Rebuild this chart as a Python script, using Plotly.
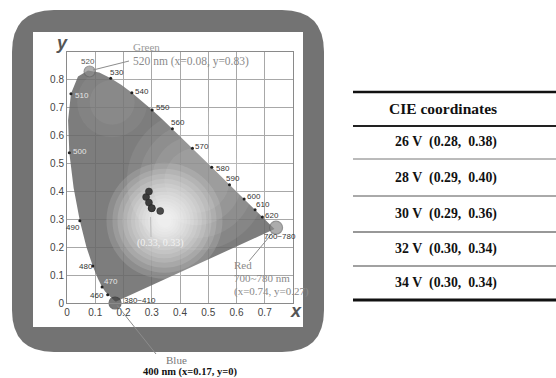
import plotly.graph_objects as go

# ---- CIE 1931 spectral locus (wavelength in nm, chromaticity x, y) ----
locus_nm = [380, 400, 410, 420, 430, 440, 450, 460, 465, 470, 475, 480, 485, 490,
            495, 500, 505, 510, 515, 520, 525, 530, 535, 540, 545, 550, 555, 560,
            565, 570, 575, 580, 585, 590, 595, 600, 605, 610, 620, 630, 640, 650, 700]
locus_x = [0.1741, 0.1733, 0.1726, 0.1714, 0.1689, 0.1644, 0.1566, 0.1440, 0.1355,
           0.1241, 0.1096, 0.0913, 0.0687, 0.0454, 0.0235, 0.0082, 0.0039, 0.0139,
           0.0389, 0.0743, 0.1142, 0.1547, 0.1929, 0.2296, 0.2658, 0.3016, 0.3373,
           0.3731, 0.4087, 0.4441, 0.4788, 0.5125, 0.5448, 0.5752, 0.6029, 0.6270,
           0.6482, 0.6658, 0.6915, 0.7079, 0.7190, 0.7260, 0.7347]
locus_y = [0.0050, 0.0048, 0.0048, 0.0051, 0.0069, 0.0109, 0.0177, 0.0297, 0.0399,
           0.0578, 0.0868, 0.1327, 0.2007, 0.2950, 0.4127, 0.5384, 0.6548, 0.7502,
           0.8120, 0.8338, 0.8262, 0.8059, 0.7816, 0.7543, 0.7243, 0.6923, 0.6589,
           0.6245, 0.5896, 0.5547, 0.5202, 0.4866, 0.4544, 0.4242, 0.3965, 0.3725,
           0.3514, 0.3340, 0.3083, 0.2920, 0.2809, 0.2740, 0.2653]

# wavelengths marked with a dot and a label along the locus
marked_nm = [460, 470, 480, 490, 500, 510, 530, 540, 550, 560, 570, 580, 590, 600, 610, 620]
labeled_nm = [460, 470, 480, 490, 500, 510, 520, 530, 540, 550, 560, 570, 580, 590, 600, 610, 620]

# primaries
primary_names = ["Green", "Red", "Blue"]
primary_x = [0.08, 0.74, 0.17]
primary_y = [0.83, 0.27, 0.0]

# measured CIE coordinates vs. drive voltage
voltages = [26, 28, 30, 32, 34]
cie_x = [0.28, 0.29, 0.29, 0.30, 0.30]
cie_y = [0.38, 0.40, 0.36, 0.34, 0.34]

# equal-energy white point
white_x = [0.33]
white_y = [0.33]

x_ticks = [0, 0.1, 0.2, 0.3, 0.4, 0.5, 0.6, 0.7]
y_ticks = [0, 0.1, 0.2, 0.3, 0.4, 0.5, 0.6, 0.7, 0.8]

# ---- layout geometry (pixels) ----
W, H = 556, 378
PL, PR, PT, PB = 67, 293, 52, 303          # plot-area edges
XR, YR = (0, 0.8), (0, 0.9)


def fx(p):  # pixel x -> paper x
    return (p - PL) / (PR - PL)


def fy(p):  # pixel y -> paper y
    return (PB - p) / (PB - PT)


def dx(v):  # data x -> paper x
    return (v - XR[0]) / (XR[1] - XR[0])


def dy(v):  # data y -> paper y
    return (v - YR[0]) / (YR[1] - YR[0])


def rounded_rect(x0, y0, x1, y1, r):
    pts = [
        ("M", [(x0 + r, y0)]), ("L", [(x1 - r, y0)]), ("Q", [(x1, y0), (x1, y0 + r)]),
        ("L", [(x1, y1 - r)]), ("Q", [(x1, y1), (x1 - r, y1)]), ("L", [(x0 + r, y1)]),
        ("Q", [(x0, y1), (x0, y1 - r)]), ("L", [(x0, y0 + r)]), ("Q", [(x0, y0), (x0 + r, y0)]),
    ]
    s = ""
    for cmd, ps in pts:
        s += cmd + " " + " ".join(f"{fx(a):.5f},{fy(b):.5f}" for a, b in ps) + " "
    return s + "Z"


def note(xp, yp, text, size, color, family, anchor="center"):
    """Text placed by pixel position on the page."""
    return dict(x=fx(xp), y=fy(yp), xref="paper", yref="paper", text=text,
                showarrow=False, xanchor=anchor, yanchor="middle",
                font=dict(size=size, color=color, family=family))


fig = go.Figure()

# horseshoe fill (mostly opaque so the grid only shows faintly through it)
fig.add_trace(go.Scatter(
    x=locus_x, y=locus_y, mode="lines", fill="toself",
    fillcolor="rgba(104,104,104,0.86)", line=dict(width=0), hoverinfo="skip"))

# soft highlights inside the horseshoe
fig.add_trace(go.Scatter(
    x=[0.46, 0.46, 0.46, 0.46], y=[0.44, 0.44, 0.44, 0.44], mode="markers",
    hoverinfo="skip",
    marker=dict(size=[140, 115, 90, 65], color="white", opacity=0.07, line=dict(width=0))))
fig.add_trace(go.Scatter(
    x=[0.16, 0.16], y=[0.72, 0.72], mode="markers", hoverinfo="skip",
    marker=dict(size=[70, 45], color="white", opacity=0.05, line=dict(width=0))))
glow_sizes = [116, 104, 94, 84, 75, 67, 59, 52, 45, 39, 33, 28, 23, 18, 14]
fig.add_trace(go.Scatter(
    x=[0.345] * len(glow_sizes), y=[0.295] * len(glow_sizes), mode="markers",
    hoverinfo="skip",
    marker=dict(size=glow_sizes, color="white", opacity=0.13, line=dict(width=0))))

# wavelength dots
idx = {nm: i for i, nm in enumerate(locus_nm)}
fig.add_trace(go.Scatter(
    x=[locus_x[idx[n]] for n in marked_nm], y=[locus_y[idx[n]] for n in marked_nm],
    mode="markers", marker=dict(size=3, color="#222"), hoverinfo="skip"))

# measured points and white point
fig.add_trace(go.Scatter(
    x=cie_x, y=cie_y, mode="markers",
    marker=dict(size=7, color="#3c3c3c", line=dict(width=0.5, color="#222"))))
fig.add_trace(go.Scatter(
    x=white_x, y=white_y, mode="markers",
    marker=dict(size=7, color="#4a4a4a", line=dict(width=0.5, color="#222"))))

# primaries
fig.add_trace(go.Scatter(
    x=primary_x, y=primary_y, mode="markers", cliponaxis=False,
    marker=dict(size=[11, 13, 12], color=["#8e8e8e", "#8a8a8a", "#3e3e3e"],
                line=dict(width=1.2, color=["#6a6a6a", "#666", "#333"]))))

# ---- annotations ----
ann = []
label_style = {
    460: (-11, -1, "#333"), 470: (9, 5, "#e6e6e6"), 480: (-7, -1, "#333"),
    490: (-7, -7, "#333"), 500: (11, 1, "#e6e6e6"), 510: (11, -2, "#e6e6e6"),
    520: (0, 9, "#555"), 530: (6, 6, "#333"), 540: (10, 1, "#333"),
    550: (11, 2, "#333"), 560: (6, 6, "#333"), 570: (10, 2, "#333"),
    580: (11, -1, "#333"), 590: (4, 6, "#333"), 600: (10, 3, "#333"),
    610: (8, 5, "#333"), 620: (10, 2, "#333"),
}
for n in labeled_nm:
    xs, ys, col = label_style[n]
    ann.append(dict(x=locus_x[idx[n]], y=locus_y[idx[n]], text=str(n), showarrow=False,
                    xshift=xs, yshift=ys, xanchor="center", yanchor="middle",
                    font=dict(size=8, color=col, family="Liberation Sans")))

ann.append(dict(x=primary_x[1], y=primary_y[1], text="700~780", showarrow=False,
                xshift=4, yshift=-9, xanchor="center", yanchor="middle",
                font=dict(size=8, color="#333", family="Liberation Sans")))
ann.append(dict(x=primary_x[2], y=primary_y[2], text="380~410", showarrow=False,
                xshift=25, yshift=3, xanchor="center", yanchor="middle",
                font=dict(size=8, color="#333", family="Liberation Sans")))

serif = "Liberation Serif"
ann.append(dict(x=dx(white_x[0]), y=fy(243), xref="paper", yref="paper",
                xanchor="center", yanchor="middle",
                text=f"({white_x[0]:.2f}, {white_y[0]:.2f})", showarrow=False,
                font=dict(size=10, color="#f2f2f2", family=serif)))

# Green
ann.append(note(146, 47, primary_names[0], 11, "#9a9a9a", serif))
ann.append(note(131, 62, f"520 nm (x={primary_x[0]:.2f}, y={primary_y[0]:.2f})",
                11.5, "#8a8a8a", serif, anchor="left"))
# Red
red_lines = [primary_names[1], "700~780 nm", f"(x={primary_x[1]:.2f}, y={primary_y[1]:.2f})"]
for t, yp in zip(red_lines, [265, 278, 291]):
    ann.append(note(232, yp, t, 11, "#8a8a8a", serif, anchor="left"))
# Blue
ann.append(note(176, 360, primary_names[2], 11, "#777", serif))
ann.append(note(190, 372, f"<b>400 nm (x={primary_x[2]:.2f}, y={primary_y[2]:.0f})</b>",
                10.5, "#111", serif))

# axis letters
ann.append(note(62, 43, "<b><i>y</i></b>", 18, "#555", "Liberation Sans"))
ann.append(note(296, 311, "<b><i>x</i></b>", 18, "#555", "Liberation Sans"))

# table
TX0, TX1 = 353, 560
ann.append(note(443, 108, "<b>CIE coordinates</b>", 15.5, "#111", serif))
nb = "\u00a0"
row_y = [142, 178, 214, 249, 283]
for v, cx, cy, yp in zip(voltages, cie_x, cie_y, row_y):
    t = f"<b>{v}{nb}V{nb}{nb}({cx:.2f},{nb}{nb}{cy:.2f})</b>"
    ann.append(note(446, yp, t, 13.8, "#111", serif))

# ---- shapes ----
shapes = [
    dict(type="path", xref="paper", yref="paper", layer="below",
         path=rounded_rect(12, 10, 324, 352, 42), fillcolor="#737373", line=dict(width=0)),
    dict(type="rect", xref="paper", yref="paper", layer="below",
         x0=fx(33), x1=fx(303), y0=fy(32), y1=fy(327), fillcolor="white", line=dict(width=0)),
]
# leader lines
lead = "#8c8c8c"
shapes.append(dict(type="line", xref="paper", yref="paper",
                   x0=dx(primary_x[0]) + 0.015, y0=dy(primary_y[0]) + 0.006,
                   x1=fx(129), y1=fy(61), line=dict(color=lead, width=1)))
shapes.append(dict(type="line", xref="paper", yref="paper",
                   x0=dx(primary_x[1]) - 0.015, y0=dy(primary_y[1]) - 0.02,
                   x1=fx(249), y1=fy(261), line=dict(color=lead, width=1)))
shapes.append(dict(type="line", xref="paper", yref="paper",
                   x0=dx(primary_x[2]) + 0.01, y0=dy(primary_y[2]) - 0.01,
                   x1=fx(156), y1=fy(354), line=dict(color=lead, width=1)))
shapes.append(dict(type="line", xref="paper", yref="paper",
                   x0=dx(cie_x[-1]) - 0.005, y0=dy(cie_y[-1]) - 0.035,
                   x1=fx(151), y1=fy(237), line=dict(color="#bbb", width=1)))

table_lines = [
    (92, 2.5, "#111", "solid"), (126, 2, "#222", "solid"), (159, 1, "#777", "solid"),
    (196, 1, "#555", "solid"), (232, 1.2, "#333", "solid"), (266, 1.2, "#444", "solid"),
    (300, 3, "#111", "solid"),
]
for yp, w, c, d in table_lines:
    shapes.append(dict(type="line", xref="paper", yref="paper", x0=fx(TX0), x1=fx(TX1),
                       y0=fy(yp), y1=fy(yp), line=dict(color=c, width=w, dash=d)))

axis_common = dict(showgrid=True, gridcolor="#a8a8a8", gridwidth=1, zeroline=False,
                   showline=True, mirror=True, linecolor="#8a8a8a", linewidth=1,
                   ticks="", tickfont=dict(size=10, color="#444", family="Liberation Sans"),
                   fixedrange=True)

fig.update_layout(
    width=W, height=H,
    margin=dict(l=PL, r=W - PR, t=PT, b=H - PB, pad=0),
    paper_bgcolor="white", plot_bgcolor="rgba(0,0,0,0)",
    showlegend=False,
    xaxis=dict(range=list(XR), tickvals=x_ticks, **axis_common),
    yaxis=dict(range=list(YR), tickvals=y_ticks, **axis_common),
    annotations=ann, shapes=shapes,
)

fig.write_html("out.html")
